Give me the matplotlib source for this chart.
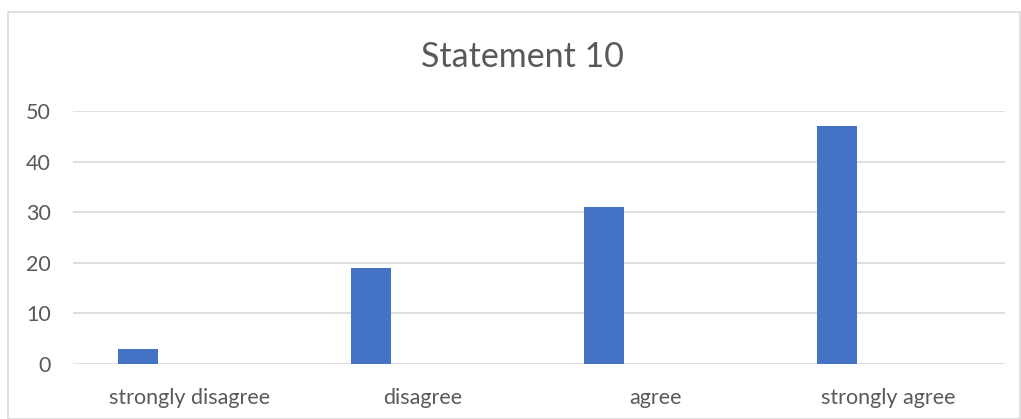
import matplotlib
matplotlib.use('Agg')
import matplotlib.pyplot as plt
from matplotlib.patches import Rectangle

categories = ['strongly disagree', 'disagree', 'agree', 'strongly agree']
counts = [3, 19, 31, 47]
y_ticks = [0, 10, 20, 30, 40, 50]

bar_color = '#4472C4'
text_color = '#595959'
grid_color = '#D9D9D9'

plt.rcParams['font.family'] = ['Lato', 'DejaVu Sans']

W, H = 1021, 419
fig = plt.figure(figsize=(W / 100, H / 100), dpi=100)

# chart frame (Excel style border)
fig.patches.append(Rectangle((8 / W, 0), (W - 9) / W, (H - 12) / H,
                             transform=fig.transFigure, fill=False,
                             edgecolor=grid_color, linewidth=1.2))

ax = fig.add_axes([73 / W, 55 / H, (1005 - 73) / W, (364 - 111) / H])

x = range(len(categories))
ax.bar([i - 0.221 for i in x], counts, width=0.172, color=bar_color, zorder=3)

ax.set_xlim(-0.5, len(categories) - 0.5)
ax.set_ylim(0, 50)
ax.set_yticks(y_ticks)
ax.set_xticks(list(x))
ax.set_xticklabels(categories)
ax.grid(axis='y', color=grid_color, linewidth=1.2, zorder=0)
for s in ax.spines.values():
    s.set_visible(False)
ax.tick_params(axis='both', length=0, labelsize=15.5, colors=text_color)
ax.tick_params(axis='x', pad=17)
ax.tick_params(axis='y', pad=16)

fig.text(522 / W, 1 - 57 / H, 'Statement 10', ha='center', va='center',
         fontsize=24.5, color=text_color)

fig.savefig('out.png', dpi=100)
